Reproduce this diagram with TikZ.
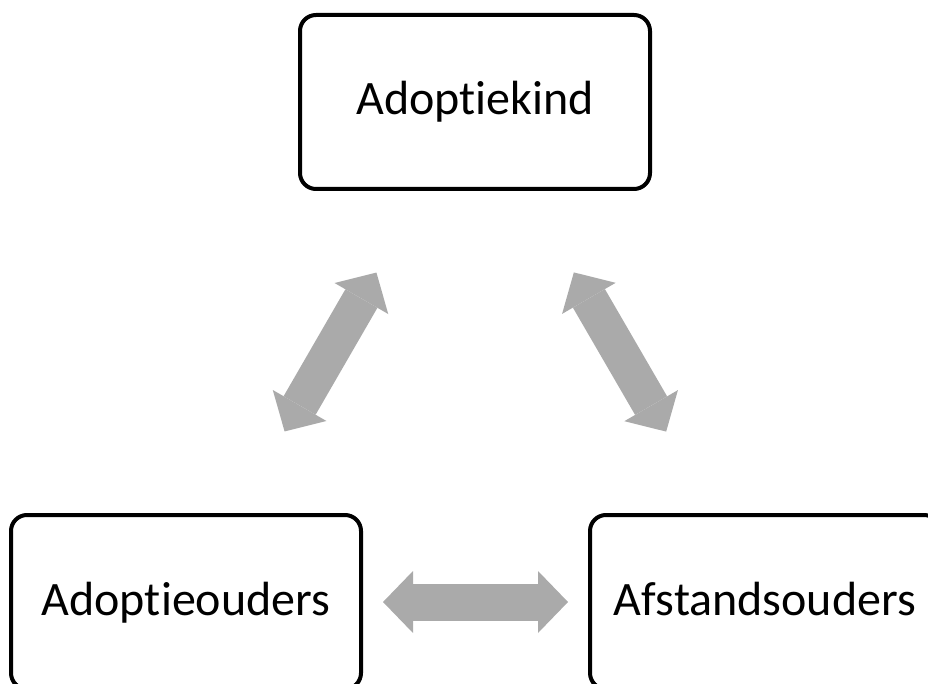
\documentclass[tikz,border=0pt]{standalone}
\usepackage{fontspec}
\setmainfont{Carlito}[Ligatures=CommonOff,Contextuals=NoAlternate]
\usetikzlibrary{arrows.meta}
\definecolor{arrowgray}{RGB}{170,170,170}
\begin{document}
\begin{tikzpicture}[x=1pt,y=-1pt,
  box/.style={draw=black, line width=4pt, rounded corners=16pt,
    minimum width=350pt, minimum height=174pt, inner sep=0pt,
    text height=36pt, text depth=10pt,
    font=\fontsize{48}{58}\selectfont},
  link/.style={draw=arrowgray, line width=37pt,
    {Triangle[width=62pt,length=30pt,line width=0pt]}-{Triangle[width=62pt,length=30pt,line width=0pt]},
    shorten <=197pt, shorten >=197pt}]
\useasboundingbox (0,0) rectangle (928,684);
\clip (0,0) rectangle (928,684);
\node[box] (ak) at (475,102) {Adopt\kern0pt iekind};
\node[box] (ao) at (186,602) {Adopt\kern0pt ieouders};
\node[box] (af) at (765,602) {Afstandsouders};
\draw[link] (ak.center) -- (ao.center);
\draw[link] (ak.center) -- (af.center);
\draw[link] (ao.center) -- (af.center);
\end{tikzpicture}
\end{document}
